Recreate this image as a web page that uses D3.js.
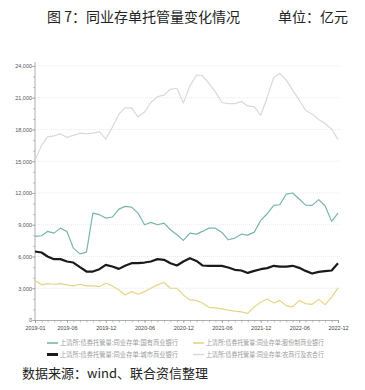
<!DOCTYPE html>
<html>
<head>
<meta charset="utf-8">
<script src="https://cdn.jsdelivr.net/npm/d3@7"></script>
<style>
  body { margin: 0; background: #fff; }
  svg { display: block; }
</style>
</head>
<body>
<div id="chart"></div>
<script>
// Monthly values, 2019-01 .. 2022-12 (亿元)
const months = d3.timeMonths(new Date(2019, 0, 1), new Date(2023, 0, 1));

const stateOwned = [7900, 7960, 8370, 8210, 8680, 8370, 6790, 6250, 6410, 10100, 9950, 9630,
    9730, 10480, 10740, 10670, 10100, 9000, 9220, 9000, 9160, 8530, 8050, 7520,
    8210, 8110, 8370, 8680, 8680, 8270, 7580, 7740, 8110, 8020, 8300, 9410,
    10040, 10830, 10890, 11900, 12000, 11430, 10860, 10830, 11370, 10800, 9320, 10100];

const jointStock = [3730, 3320, 3440, 3380, 3440, 3320, 3220, 3380, 3220, 3220, 3160, 3470,
    3220, 2840, 2370, 2680, 2430, 2680, 3000, 3320, 3540, 3000, 3000, 2370,
    1900, 1850, 1610, 1200, 1140, 1050, 930, 830, 770, 620, 1240, 1670,
    1980, 1610, 1850, 1360, 1240, 1850, 1550, 1480, 1950, 1450, 2160, 3030];

const cityCommercial = [6470, 6380, 6000, 5750, 5750, 5530, 5430, 4990, 4580, 4580, 4800, 5210,
    5050, 4830, 5120, 5370, 5370, 5430, 5530, 5750, 5690, 5370, 5150, 5530,
    5840, 5580, 5150, 5120, 5120, 5120, 4960, 4740, 4680, 4450, 4640, 4800,
    4900, 5120, 5050, 5050, 5120, 4930, 4640, 4390, 4550, 4610, 4680, 5370];

const ruralBanks = [15100, 16500, 17300, 17400, 17600, 17250, 17450, 17650, 17600, 17650, 17800, 17100,
    18200, 19450, 20050, 20050, 19200, 19650, 20550, 21100, 21250, 21800, 21900, 20500,
    22100, 23150, 23080, 22350, 21560, 20550, 20450, 20450, 20650, 20230, 20140, 19350,
    21030, 22920, 23300, 22670, 21720, 20770, 19820, 19450, 18940, 18560, 18020, 17040];

const seriesNames = [
    "上清所:债券托管量:同业存单:国有商业银行",
    "上清所:债券托管量:同业存单:股份制商业银行",
    "上清所:债券托管量:同业存单:城市商业银行",
    "上清所:债券托管量:同业存单:农商行及农合行"
];

const xTickLabels = ["2019-01", "2019-06", "2019-12", "2020-06", "2020-12",
    "2021-06", "2021-12", "2022-06", "2022-12"];
const yTicks = [0, 3000, 6000, 9000, 12000, 15000, 18000, 21000, 24000];

const width = 365;
const height = 390;
const margin = { top: 66, right: 27, bottom: 70, left: 35 };

const svg = d3.select("#chart")
    .append("svg")
    .attr("width", width)
    .attr("height", height);

const parseMonth = d3.timeParse("%Y-%m");

const x = d3.scaleTime()
    .domain([months[0], months[months.length - 1]])
    .range([margin.left, width - margin.right]);

const y = d3.scaleLinear()
    .domain([0, 24000])
    .range([height - margin.bottom, margin.top]);

// Title
svg.append("text")
    .attr("x", 47)
    .attr("y", 22)
    .style("font-family", "'Noto Sans CJK SC'")
    .style("font-size", "14px")
    .attr("fill", "#222")
    .text("图 7：同业存单托管量变化情况");

svg.append("text")
    .attr("x", 278)
    .attr("y", 22)
    .style("font-family", "'Noto Sans CJK SC'")
    .style("font-size", "14px")
    .attr("fill", "#222")
    .text("单位：亿元");

// Gridlines
svg.append("g")
    .selectAll("line")
    .data(yTicks.filter(d => d > 0))
    .join("line")
    .attr("x1", margin.left)
    .attr("x2", width - margin.right + 2)
    .attr("y1", d => y(d))
    .attr("y2", d => y(d))
    .attr("stroke", "#dcdcdc")
    .attr("stroke-width", 0.6)
    .attr("stroke-dasharray", "1,1");

// Y axis: minor ticks every 1000, labels every 3000
const yAxis = svg.append("g")
    .attr("transform", `translate(${margin.left},0)`)
    .call(d3.axisLeft(y).tickValues(d3.range(0, 24001, 1000)).tickSize(2).tickFormat(""));
const yLabels = svg.append("g")
    .attr("transform", `translate(${margin.left},0)`)
    .call(d3.axisLeft(y).tickValues(yTicks).tickSize(3).tickFormat(d3.format(",")));
[yAxis, yLabels].forEach(g => {
    g.select(".domain").attr("stroke", "#999").attr("stroke-width", 0.8);
    g.selectAll(".tick line").attr("stroke", "#999").attr("stroke-width", 0.6);
});
yLabels.select(".domain").attr("d", `M0,${y(0)}V${margin.top - 4}`);
yAxis.select(".domain").remove();
yLabels.selectAll(".tick text")
    .attr("x", -3)
    .style("font-family", "'Liberation Sans', Arial")
    .style("font-size", "5.5px")
    .attr("fill", "#555");

// X axis: monthly ticks, labelled half-yearly
const xAxis = svg.append("g")
    .attr("transform", `translate(0,${y(0)})`)
    .call(d3.axisBottom(x).tickValues(months).tickSize(2.5).tickFormat(""));
const xLabels = svg.append("g")
    .attr("transform", `translate(0,${y(0)})`)
    .call(d3.axisBottom(x).tickValues(xTickLabels.map(parseMonth)).tickSize(3)
        .tickFormat(d3.timeFormat("%Y-%m")));
[xAxis, xLabels].forEach(g => {
    g.select(".domain").attr("stroke", "#999").attr("stroke-width", 0.8);
    g.selectAll(".tick line").attr("stroke", "#999").attr("stroke-width", 0.6);
});
xAxis.select(".domain").remove();
xLabels.selectAll(".tick text")
    .attr("y", 6)
    .style("font-family", "'Liberation Sans', Arial")
    .style("font-size", "5.5px")
    .attr("fill", "#444");

// Lines
const series = [
    { name: seriesNames[3], values: ruralBanks, color: "#d9d9d9", width: 1.2 },
    { name: seriesNames[0], values: stateOwned, color: "#78b5ac", width: 1.2 },
    { name: seriesNames[1], values: jointStock, color: "#e6d486", width: 1.2 },
    { name: seriesNames[2], values: cityCommercial, color: "#1a1a1a", width: 2.2 }
];

const line = d3.line()
    .x((d, i) => x(months[i]))
    .y(d => y(d));

svg.append("g")
    .selectAll("path")
    .data(series)
    .join("path")
    .attr("fill", "none")
    .attr("stroke", d => d.color)
    .attr("stroke-width", d => d.width)
    .attr("stroke-linejoin", "round")
    .attr("d", d => line(d.values));

// Legend
const legendOrder = [series[1], series[2], series[3], series[0]];
const legend = svg.append("g");
legendOrder.forEach((s, i) => {
    const col = i % 2;
    const row = Math.floor(i / 2);
    const lx = 47 + col * 146;
    const ly = 343 + row * 11.5;
    legend.append("line")
        .attr("x1", lx)
        .attr("x2", lx + 11)
        .attr("y1", ly)
        .attr("y2", ly)
        .attr("stroke", s.color)
        .attr("stroke-width", s.width === 2.2 ? 3 : 1.6);
    legend.append("text")
        .attr("x", lx + 13)
        .attr("y", ly + 2.2)
        .attr("textLength", 118)
        .attr("lengthAdjust", "spacingAndGlyphs")
        .style("font-family", "'Noto Sans CJK SC'")
        .style("font-size", "6.4px")
        .attr("fill", "#999")
        .text(s.name);
});

// Source
svg.append("text")
    .attr("x", 22)
    .attr("y", 378)
    .style("font-family", "'Noto Sans CJK SC'")
    .style("font-size", "13px")
    .attr("fill", "#222")
    .text("数据来源：wind、联合资信整理");
</script>
</body>
</html>
